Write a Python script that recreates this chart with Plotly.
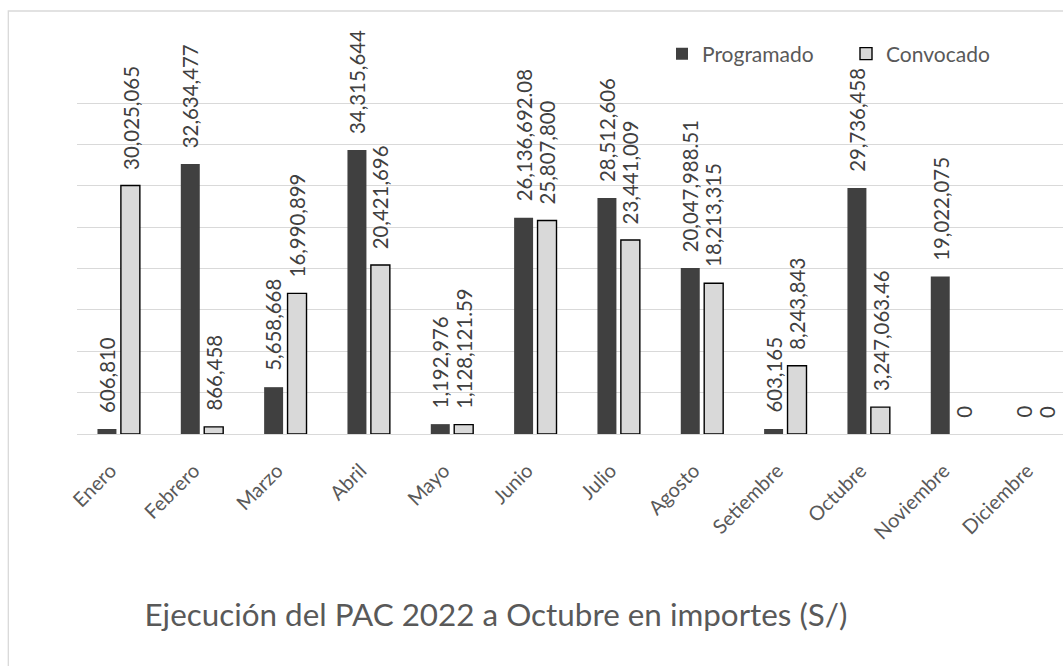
import plotly.graph_objects as go

# ---------------- data ----------------
meses = ["Enero", "Febrero", "Marzo", "Abril", "Mayo", "Junio", "Julio",
         "Agosto", "Setiembre", "Octubre", "Noviembre", "Diciembre"]
programado = [606810, 32634477, 5658668, 34315644, 1192976, 26136692.08,
              28512606, 20047988.51, 603165, 29736458, 19022075, 0]
convocado = [30025065, 866458, 16990899, 20421696, 1128121.59, 25807800,
             23441009, 18213315, 8243843, 3247063.46, 0, 0]
titulo = "Ejecución del PAC 2022 a Octubre en importes (S/)"

# ---------------- styles ----------------
FONT = "Lato, Carlito, Calibri, sans-serif"
C_PROG = "#404040"
C_CONV = "#d9d9d9"
C_GRID = "#d9d9d9"
C_TXT = "#404040"
C_AXTXT = "#595959"

W, H = 1063, 666
ML, MR, MT, MB = 77, 0, 101, 232
plot_w = W - ML - MR
plot_h = H - MT - MB
cat_px = 83.33
x_max = -0.5 + plot_w / cat_px
Y_TOP = 40e6            # value of the top gridline
y_max = Y_TOP * plot_h / (plot_h - 2)   # leave 2px so the top gridline is drawn


def fmt(v):
    return f"{v:,.2f}" if abs(v - round(v)) > 1e-9 else f"{v:,.0f}"


fig = go.Figure()
fig.add_trace(go.Bar(
    name="Programado", x=meses, y=programado,
    marker=dict(color=C_PROG, line=dict(width=0)),
))
fig.add_trace(go.Bar(
    name="Convocado", x=meses, y=convocado,
    marker=dict(color=C_CONV,
                line=dict(color="#000000",
                          width=[1.4 if v else 0 for v in convocado])),
))

annotations = []
slot = 23.4
for vals, shift in ((programado, -slot / 2), (convocado, slot / 2)):
    for m, v in zip(meses, vals):
        annotations.append(dict(
            x=m, y=v, xref="x", yref="y", text=fmt(v), showarrow=False,
            textangle=-90, xanchor="center", yanchor="bottom",
            xshift=shift, yshift=14,
            font=dict(family=FONT, size=20.4, color=C_TXT),
        ))

fig.update_layout(
    width=W, height=H,
    margin=dict(l=ML, r=MR, t=MT, b=MB, pad=0),
    paper_bgcolor="white", plot_bgcolor="white",
    barmode="group", bargap=0.438, bargroupgap=0.19,
    font=dict(family=FONT, color=C_AXTXT),
    title=dict(text=titulo, x=496 / W, xref="container", xanchor="center",
               y=1 - 615 / H, yref="container", yanchor="middle",
               font=dict(family=FONT, size=31.4, color=C_AXTXT)),
    legend=dict(orientation="h", xref="container", yref="container",
                x=662 / W, xanchor="left", y=1 - 54 / H, yanchor="middle",
                font=dict(family=FONT, size=21, color=C_AXTXT),
                bgcolor="rgba(0,0,0,0)", entrywidth=139,
                itemclick=False),
    xaxis=dict(range=[-0.5, x_max], showgrid=False, showline=True,
               linecolor=C_GRID, linewidth=1.3, ticks="", tickangle=-45,
               ticklabelstandoff=16, ticklabelshift=-8,
               tickfont=dict(family=FONT, size=20, color=C_AXTXT)),
    yaxis=dict(range=[0, y_max], dtick=5e6, showgrid=True, gridcolor=C_GRID,
               gridwidth=1.3, zeroline=False, showticklabels=False,
               showline=False, ticks=""),
    annotations=annotations,
    shapes=[dict(type="rect", xref="paper", yref="paper",
                 x0=(8.3 - ML) / plot_w, x1=1.2,
                 y0=-1.2, y1=(MT + plot_h - 11) / plot_h,
                 line=dict(color=C_GRID, width=1.3), fillcolor="rgba(0,0,0,0)",
                 layer="below")],
)

fig.write_html(
    "out.html",
    config={"displayModeBar": False},
    post_script="document.body.style.margin='0';"
                "document.body.style.overflow='hidden';",
)
